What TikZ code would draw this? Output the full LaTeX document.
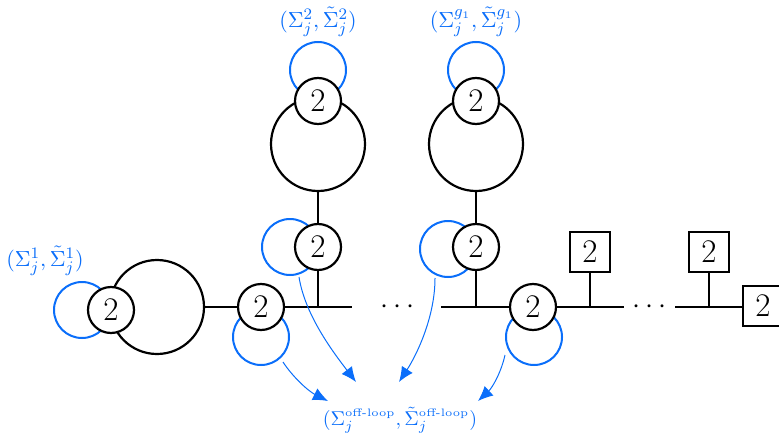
\documentclass[tikz,border=0pt]{standalone}
\usepackage{amsmath}
\usetikzlibrary{arrows.meta,calc}
\definecolor{loopblue}{RGB}{10,110,250}
\tikzset{
  vert/.style={circle, draw, line width=1.1pt, fill=white, minimum size=23pt, inner sep=0pt,
    font=\fontsize{16.5}{17}\selectfont},
  leaf/.style={rectangle, draw, line width=1.1pt, fill=white, minimum size=20.2pt, inner sep=0pt,
    font=\fontsize{16.5}{17}\selectfont},
  bigc/.style={circle, draw, line width=1.1pt, minimum size=47pt, inner sep=0pt},
  edge/.style={line width=1.1pt},
  selfloop/.style={draw=loopblue, line width=1pt},
  arr/.style={draw=loopblue, line width=0.5pt, -{Latex[length=7.5pt,width=6.5pt]}},
  lbl/.style={text=loopblue, font=\fontsize{11}{12}\selectfont, inner sep=0pt},
  dotsn/.style={font=\fontsize{15.5}{16}\selectfont, inner sep=0pt},
}
\newcommand{\offsup}{\mbox{\fontsize{5.4}{6}\selectfont off-loop}}
\begin{document}
\begin{tikzpicture}[x=0.5pt,y=-0.5pt]
\useasboundingbox (0,0) rectangle (779,438);

% big genus circles
\node[bigc] (B1) at (157,307) {};
\node[bigc] (B2) at (318,144) {};
\node[bigc] (B3) at (476,144) {};

% self-loops (drawn beneath the vertices)
\draw[selfloop] (82,310) circle[radius=14pt];
\draw[selfloop] (318,70) circle[radius=14pt];
\draw[selfloop] (476,70) circle[radius=14pt];
\draw[selfloop] (290,247) circle[radius=14pt];
\draw[selfloop] (448,249) circle[radius=14pt];
\draw[selfloop] (261,337) circle[radius=14pt];
\draw[selfloop] (534,337) circle[radius=14pt];

% vertices
\node[vert] (v1) at (111,310) {2};
\node[vert] (v2) at (261,307) {2};
\node[vert] (t2) at (318,101) {2};
\node[vert] (t3) at (476,101) {2};
\node[vert] (v3) at (318,247) {2};
\node[vert] (v4) at (476,247) {2};
\node[vert] (v5) at (533,307) {2};
\node[leaf] (q1) at (590,252) {2};
\node[leaf] (q2) at (709,252) {2};
\node[leaf] (q3) at (763,306) {2};

% chain coordinates
\coordinate (e1) at (352,307);
\coordinate (s1) at (441,307);
\coordinate (e2) at (624,307);
\coordinate (s2) at (675,307);

% edges
\draw[edge] (B1) -- (v2);
\draw[edge] (v2) -- (e1);
\draw[edge] (v3) -- (v3 |- e1);
\draw[edge] (B2) -- (v3);
\draw[edge] (s1) -- (v5);
\draw[edge] (v5) -- (e2);
\draw[edge] (B3) -- (v4);
\draw[edge] (v4) -- (v4 |- s1);
\draw[edge] (q1) -- (q1 |- e2);
\draw[edge] (s2) -- (s2 -| q3.west);
\draw[edge] (q2) -- (q2 |- s2);

% dots
\node[dotsn] (d1) at (400,307) {$\cdots$};
\node[dotsn] (d2) at (652,307) {$\cdots$};

% labels
\node[lbl] (L1) at (45,261) {$(\Sigma_j^1,\tilde{\Sigma}_j^1)$};
\node[lbl] (L2) at (318,22) {$(\Sigma_j^2,\tilde{\Sigma}_j^2)$};
\node[lbl] (L3) at (476,22) {$(\Sigma_j^{g_1},\tilde{\Sigma}_j^{g_1})$};
\node[lbl, font=\fontsize{9.8}{11}\selectfont] (L4) at (400,420)
  {$(\Sigma_j^{\offsup},\tilde{\Sigma}_j^{\offsup})$};

% arrows to the off-loop label
\coordinate (a1) at (283,362);
\coordinate (a2) at (299,277);
\coordinate (a3) at (435,278);
\coordinate (a4) at (505,355);
\coordinate (h1) at (328,401);
\coordinate (h2) at (356,382);
\coordinate (h3) at (399,382);
\coordinate (h4) at (478,401);
\draw[arr] (a1) .. controls (292,376) and (308,391) .. (h1);
\draw[arr] (a2) .. controls (305,315) and (333,352) .. (h2);
\draw[arr] (a3) .. controls (435,318) and (416,356) .. (h3);
\draw[arr] (a4) .. controls (501,373) and (492,388) .. (h4);
\end{tikzpicture}
\end{document}
